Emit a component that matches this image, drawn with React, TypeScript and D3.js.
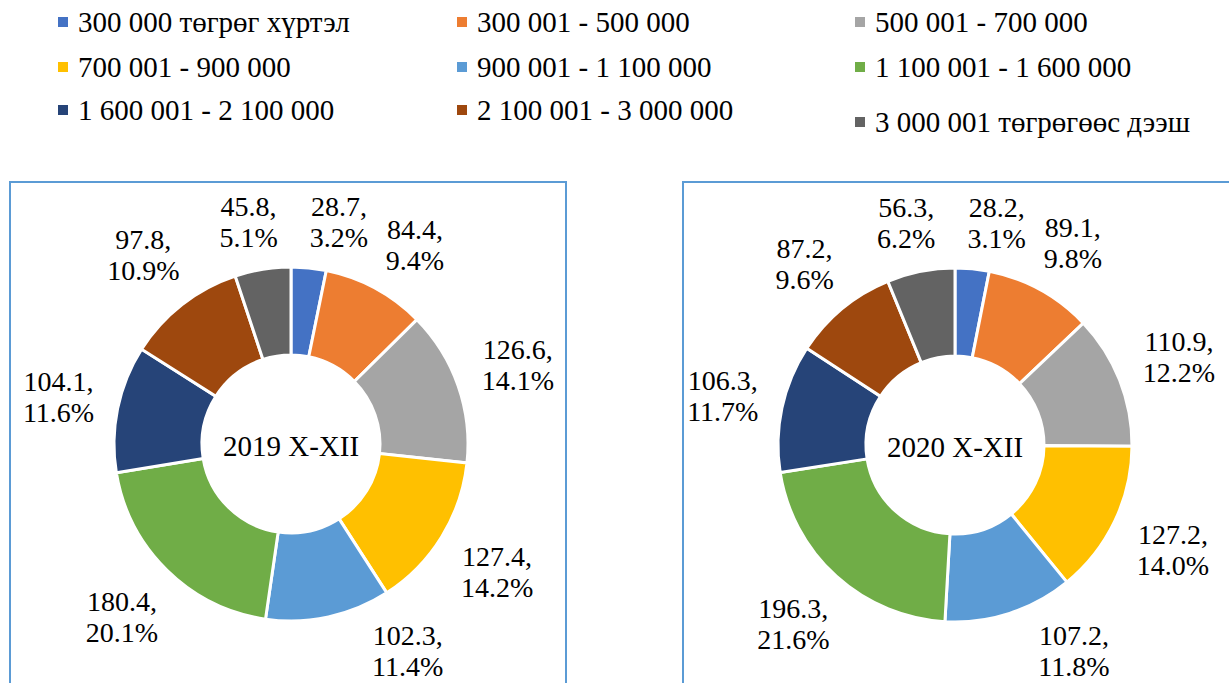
import React from "react";
import * as d3 from "d3";

const categories = [
  "300 000 төгрөг хүртэл",
  "300 001 - 500 000",
  "500 001 - 700 000",
  "700 001 - 900 000",
  "900 001 - 1 100 000",
  "1 100 001 - 1 600 000",
  "1 600 001 - 2 100 000",
  "2 100 001 - 3 000 000",
  "3 000 001 төгрөгөөс дээш",
];

const colors = [
  "#4472C4",
  "#ED7D31",
  "#A5A5A5",
  "#FFC000",
  "#5B9BD5",
  "#70AD47",
  "#264478",
  "#9E480E",
  "#636363",
];

const values2019 = [28.7, 84.4, 126.6, 127.4, 102.3, 180.4, 104.1, 97.8, 45.8];
const values2020 = [28.2, 89.1, 110.9, 127.2, 107.2, 196.3, 106.3, 87.2, 56.3];

const titles = ["2019 X-XII", "2020 X-XII"];

const W = 1229;
const H = 683;
const FONT = "'Liberation Serif', 'Times New Roman', Tinos, serif";
const LABEL_SIZE = 28;
const LINE = 31;

let ctx: CanvasRenderingContext2D | null = null;
function measure(t: string, size: number) {
  if (!ctx && typeof document !== "undefined") {
    ctx = document.createElement("canvas").getContext("2d");
  }
  if (!ctx) return t.length * size * 0.5;
  ctx.font = `${size}px ${FONT}`;
  return ctx.measureText(t).width;
}

type Lab = { a: number; hw: number; l1: string; l2: string; x: number; y: number };

function Donut({ values, title, cx, cy }: { values: number[]; title: string; cx: number; cy: number }) {
  const R = 177;
  const r = 89;
  const T = R + 20; // distance from centre to nearest point of a label box
  const HH = 26;
  const total = d3.sum(values);
  const pie = d3.pie<number>().sort(null).value((d) => d)(values);
  const arc = d3.arc<d3.PieArcDatum<number>>().innerRadius(r).outerRadius(R);

  const maxCy = H - 8 - 25 - cy;
  const labs: Lab[] = pie.map((p, i) => {
    const l1 = `${values[i]},`;
    const l2 = `${((values[i] / total) * 100).toFixed(1)}%`;
    const w = Math.max(measure(l1, LABEL_SIZE), measure(l2, LABEL_SIZE));
    return { a: (p.startAngle + p.endAngle) / 2, hw: w / 2 + 1, l1, l2, x: 0, y: 0 };
  });

  const place = (L: Lab) => {
    let lo = 0;
    let hi = 500;
    for (let k = 0; k < 40; k++) {
      const d = (lo + hi) / 2;
      const x = Math.sin(L.a) * d;
      const y = -Math.cos(L.a) * d;
      const nx = Math.max(0, Math.abs(x) - L.hw);
      const ny = Math.max(0, Math.abs(y) - HH);
      if (Math.hypot(nx, ny) < T) lo = d;
      else hi = d;
    }
    L.x = Math.sin(L.a) * lo;
    L.y = -Math.cos(L.a) * lo;
    if (L.y > maxCy) {
      L.y = maxCy;
      const ny = maxCy - HH;
      const nx = Math.sqrt(Math.max(0, T * T - ny * ny));
      L.x = Math.sign(Math.sin(L.a)) * (L.hw + nx);
    }
  };
  labs.forEach(place);

  const overlaps = (A: Lab, B: Lab, gap: number) =>
    Math.abs(A.x - B.x) < A.hw + B.hw + gap && Math.abs(A.y - B.y) < 2 * HH + 6;

  // top pair: last label (left of 12 o'clock) and first label (right of it)
  const first = labs[0];
  const last = labs[labs.length - 1];
  for (let k = 0; k < 300 && overlaps(first, last, 30); k++) {
    first.a += 0.004;
    last.a -= 0.001;
    place(first);
    place(last);
  }
  // cascade clockwise
  for (let i = 1; i < labs.length; i++) {
    for (let k = 0; k < 300 && overlaps(labs[i], labs[i - 1], 15); k++) {
      labs[i].a += 0.004;
      place(labs[i]);
    }
  }

  return (
    <g transform={`translate(${cx},${cy})`}>
      {pie.map((p, i) => (
        <path key={i} d={arc(p) || ""} fill={colors[i]} stroke="#fff" strokeWidth={3} />
      ))}
      {labs.map((L, i) => (
        <text key={"l" + i} textAnchor="middle" style={{ fontFamily: FONT }} fontSize={LABEL_SIZE} fill="#000">
          <tspan x={L.x} y={L.y - LINE / 2 + 10}>{L.l1}</tspan>
          <tspan x={L.x} y={L.y + LINE / 2 + 10}>{L.l2}</tspan>
        </text>
      ))}
      <text x={0} y={12} textAnchor="middle" style={{ fontFamily: FONT }} fontSize={29} fill="#000">
        {title}
      </text>
    </g>
  );
}

export default function App() {
  const legendX = [58, 457, 855];
  const legendY = [22, 67, 110];
  return (
    <div style={{ position: "absolute", left: 0, top: 0 }}>
      <svg width={W} height={H} style={{ display: "block", background: "#fff" }}>
        <rect x={0} y={0} width={W} height={H} fill="#fff" />
        {categories.map((c, i) => {
          const col = i % 3;
          const row = Math.floor(i / 3);
          const x = legendX[col];
          const y = legendY[row] + (i === 8 ? 12 : 0);
          return (
            <g key={c}>
              <rect x={x} y={y - 5} width={10} height={10} fill={colors[i]} />
              <text x={x + 20} y={y + 10} style={{ fontFamily: FONT }} fontSize={29} fill="#000">
                {c}
              </text>
            </g>
          );
        })}
        <rect x={10} y={182} width={556} height={540} fill="none" stroke="#5B9BD5" strokeWidth={2} />
        <rect x={683} y={182} width={556} height={540} fill="none" stroke="#5B9BD5" strokeWidth={2} />
        <Donut values={values2019} title={titles[0]} cx={291} cy={444} />
        <Donut values={values2020} title={titles[1]} cx={955} cy={445} />
      </svg>
    </div>
  );
}
